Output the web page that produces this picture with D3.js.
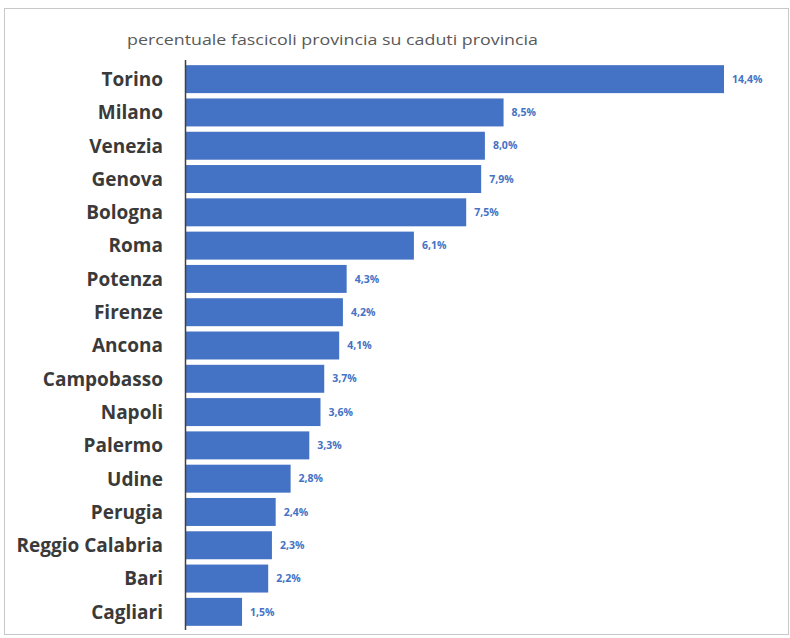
<!DOCTYPE html>
<html>
<head>
<meta charset="utf-8">
<script src="https://cdn.jsdelivr.net/npm/d3@7"></script>
<style>
  body { margin: 0; background: #fff; }
</style>
</head>
<body>
<div id="chart"></div>
<script>
const province = ["Torino", "Milano", "Venezia", "Genova", "Bologna", "Roma", "Potenza", "Firenze", "Ancona",
  "Campobasso", "Napoli", "Palermo", "Udine", "Perugia", "Reggio Calabria", "Bari", "Cagliari"];
const percentuali = [14.4, 8.5, 8.0, 7.9, 7.5, 6.1, 4.3, 4.2, 4.1, 3.7, 3.6, 3.3, 2.8, 2.4, 2.3, 2.2, 1.5];
const titolo = "percentuale fascicoli provincia su caduti provincia";

const data = province.map((p, i) => ({ provincia: p, valore: percentuali[i] }));

const width = 790;
const height = 638;
const x0 = 186;

const svg = d3.select("#chart").append("svg")
    .attr("width", width)
    .attr("height", height)
    .style("font-family", "'Open Sans', sans-serif");

// cornice
svg.append("rect")
    .attr("x", 4.5).attr("y", 8.5)
    .attr("width", 784).attr("height", 626)
    .attr("fill", "none")
    .attr("stroke", "#c8c8c8");

const xScale = d3.scaleLinear()
    .domain([0, 14.4])
    .range([x0, 724]);

const yScale = d3.scaleBand()
    .domain(province)
    .range([62.5, 628.5])
    .paddingInner(0.16)
    .paddingOuter(0.08);

svg.append("text")
    .text(titolo)
    .attr("x", 127)
    .attr("y", 45)
    .attr("fill", "#595959")
    .style("font-size", "14.5px")
    .attr("textLength", 411)
    .attr("lengthAdjust", "spacingAndGlyphs");

const row = svg.selectAll("g.row").data(data).join("g")
    .attr("class", "row")
    .attr("transform", d => `translate(0, ${yScale(d.provincia)})`);

row.append("rect")
    .attr("x", x0)
    .attr("y", 0)
    .attr("width", d => xScale(d.valore) - x0)
    .attr("height", yScale.bandwidth())
    .attr("fill", "#4472c4");

row.append("text")
    .text(d => d.provincia)
    .attr("x", 163)
    .attr("y", yScale.bandwidth() / 2)
    .attr("dy", "0.36em")
    .attr("text-anchor", "end")
    .attr("fill", "#3a3a3a")
    .style("font-size", "19px")
    .style("font-weight", "700");

row.append("text")
    .text(d => d.valore.toFixed(1).replace(".", ",") + "%")
    .attr("x", d => xScale(d.valore) + 8)
    .attr("y", yScale.bandwidth() / 2)
    .attr("dy", "0.35em")
    .attr("fill", "#4472c4")
    .style("font-size", "10.5px")
    .style("font-weight", "700");

// asse verticale
svg.append("line")
    .attr("x1", x0 - 0.5).attr("x2", x0 - 0.5)
    .attr("y1", 60).attr("y2", 630)
    .attr("stroke", "#404040")
    .attr("stroke-width", 1.5);
</script>
</body>
</html>
